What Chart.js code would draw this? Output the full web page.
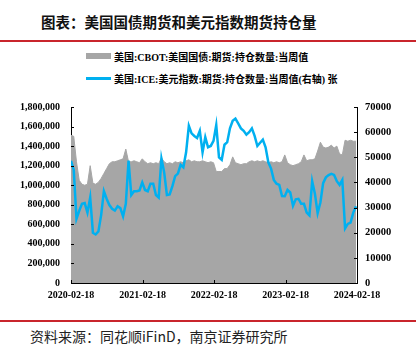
<!DOCTYPE html>
<html>
<head>
<meta charset="utf-8">
<script src="https://cdn.jsdelivr.net/npm/chart.js@4.4.1/dist/chart.umd.min.js"></script>
<style>
  html, body { margin: 0; padding: 0; background: #fff; }
  #page { position: relative; width: 416px; height: 361px; overflow: hidden; background: #fff; }
  .redline { position: absolute; left: 0; width: 416px; height: 2px; background: #c9252c; }
  #title { position: absolute; left: 41px; top: 11px; font: bold 14.5px "Noto Sans CJK SC", sans-serif; color: #111; white-space: nowrap; }
  .leg { position: absolute; left: 86px; height: 14px; display: flex; align-items: center; white-space: nowrap;
         font: bold 10px "Liberation Serif", "Noto Sans CJK SC", serif; color: #000; }
  .leg i { display: inline-block; width: 25px; margin-right: 3px; }
  #source { position: absolute; left: 30px; top: 326px; font: 14px "Noto Sans CJK SC", sans-serif; color: #222; white-space: nowrap; }
  #chart { position: absolute; left: 0; top: 90px; }
</style>
</head>
<body>
<div id="page">
  <div id="title">图表：美国国债期货和美元指数期货持仓量</div>
  <div class="redline" style="top:40px"></div>
  <div class="leg" style="top:49px"><i style="height:6px;background:#a6a6a6"></i>美国:CBOT:美国国债:期货:持仓数量:当周值</div>
  <div class="leg" style="top:71px"><i style="height:3px;background:#00b0f0"></i>美国:ICE:美元指数:期货:持仓数量:当周值(右轴) 张</div>
  <canvas id="chart" width="416" height="220"></canvas>
  <div class="redline" style="top:320px"></div>
  <div id="source">资料来源：同花顺iFinD，南京证券研究所</div>
</div>
<script>
(function () {
    'use strict';

    // one reading every 14 days starting 2020-02-18
    const START = '2020-02-18';
    const STEP_DAYS = 14;
    const tickLabels = ['2020-02-18', '2021-02-18', '2022-02-18', '2023-02-18', '2024-02-18'];

    // CBOT US Treasury futures open interest (left axis)
    const cbotOI = [
        1510000, 1500000, 1240000, 1050000, 1010000, 1000000, 1010000, 1200000, 1020000, 1010000,
        1030000, 1070000, 1120000, 1170000, 1220000, 1240000, 1240000, 1250000, 1260000, 1270000,
        1370000, 1240000, 1240000, 1250000, 1240000, 1230000, 1270000, 1240000, 1220000, 1230000,
        1220000, 1230000, 1220000, 1280000, 1240000, 1220000, 1230000, 1220000, 1240000, 1230000,
        1240000, 1230000, 1250000, 1260000, 1240000, 1250000, 1240000, 1240000, 1250000, 1240000,
        1230000, 1240000, 1230000, 1140000, 1140000, 1140000, 1170000, 1170000, 1210000, 1290000,
        1230000, 1220000, 1210000, 1220000, 1220000, 1240000, 1250000, 1240000, 1250000, 1240000,
        1250000, 1240000, 1230000, 1240000, 1230000, 1240000, 1230000, 1240000, 1310000, 1230000,
        1210000, 1200000, 1210000, 1220000, 1240000, 1310000, 1250000, 1260000, 1260000, 1270000,
        1350000, 1440000, 1390000, 1380000, 1390000, 1410000, 1380000, 1400000, 1320000, 1310000,
        1460000, 1450000, 1460000, 1450000, 1450000
    ];

    // ICE US dollar index futures open interest (right axis)
    const iceDxOI = [
        48600, 45000, 25500, 28700, 31500, 31800, 28000, 34000, 20000, 19300,
        20500, 27000, 36500, 33500, 31000, 29500, 28800, 30500, 29800, 26500,
        31500, 48700, 35000, 36500, 36500, 36800, 40000, 37000, 36500, 39500,
        39500, 35000, 34000, 49500, 44000, 35000, 35200, 38500, 42500, 43500,
        47000, 46000, 52000, 62500, 59500, 58500, 57700, 60500, 52000, 58000,
        54000, 54500, 56500, 62800, 50000, 49000, 55000, 56000, 61500, 64500,
        65400, 63500, 61500, 60500, 59000, 60000, 61500, 58500, 54500, 55800,
        57000, 54000, 48000, 45500, 41000, 39500, 39000, 34600, 34500, 37000,
        36000, 30700, 33300, 33500, 31500, 31500, 28000, 26900, 40500, 35500,
        27800, 32000, 39700, 42000, 42900, 43400, 43000, 40500, 39000, 41000,
        21700, 23500, 24000, 28000, 30500
    ];

    const DAY = 86400000;
    const t0 = Date.parse(START);
    const tickDays = tickLabels.map(d => Math.round((Date.parse(d) - t0) / DAY));
    const toPoints = arr => arr.map((v, i) => ({ x: i * STEP_DAYS, y: v }));

    const tickFont = { family: "'Liberation Serif', 'Times New Roman', serif", size: 10, weight: 'bold' };

    // small inward tick marks like the original
    const innerTicks = {
        id: 'innerTicks',
        afterDraw(chart) {
            const { ctx, chartArea: a, scales } = chart;
            ctx.save();
            ctx.strokeStyle = '#000';
            ctx.lineWidth = 1;
            ctx.beginPath();
            scales.y.ticks.forEach(t => {
                const p = Math.round(scales.y.getPixelForValue(t.value)) + 0.5;
                ctx.moveTo(a.left, p); ctx.lineTo(a.left + 3, p);
            });
            scales.y1.ticks.forEach(t => {
                const p = Math.round(scales.y1.getPixelForValue(t.value)) + 0.5;
                ctx.moveTo(a.right, p); ctx.lineTo(a.right - 3, p);
            });
            scales.x.ticks.forEach(t => {
                const p = Math.round(scales.x.getPixelForValue(t.value)) + 0.5;
                ctx.moveTo(p, a.bottom); ctx.lineTo(p, a.bottom - 3);
            });
            ctx.stroke();
            ctx.restore();
        }
    };

    new Chart(document.getElementById('chart'), {
        type: 'line',
        data: {
            datasets: [{
                label: '美国:ICE:美元指数:期货:持仓数量:当周值(右轴)',
                data: toPoints(iceDxOI),
                yAxisID: 'y1',
                borderColor: '#00b0f0',
                borderWidth: 2.5,
                pointRadius: 0,
                fill: false,
                tension: 0,
                order: 0
            }, {
                label: '美国:CBOT:美国国债:期货:持仓数量:当周值',
                data: toPoints(cbotOI),
                yAxisID: 'y',
                borderColor: '#a6a6a6',
                backgroundColor: '#a6a6a6',
                borderWidth: 1,
                pointRadius: 0,
                fill: 'origin',
                tension: 0,
                order: 1
            }]
        },
        options: {
            responsive: false,
            devicePixelRatio: 1,
            animation: false,
            layout: { padding: { top: 11, left: 0, right: 0, bottom: 0 } },
            plugins: { legend: { display: false }, tooltip: { enabled: false } },
            scales: {
                x: {
                    type: 'linear',
                    min: 0,
                    max: tickDays[tickDays.length - 1],
                    z: 1,
                    grid: { display: false, drawTicks: false },
                    border: { display: true, color: '#000', width: 1 },
                    afterBuildTicks: s => { s.ticks = tickDays.map(v => ({ value: v })); },
                    afterFit: s => { s.height = 27; },
                    ticks: {
                        autoSkip: false, maxRotation: 0, padding: 6,
                        color: '#000', font: tickFont,
                        callback: (v, i) => tickLabels[i]
                    }
                },
                y: {
                    position: 'left',
                    min: 0, max: 1800000,
                    z: 1,
                    grid: { display: false, drawTicks: false },
                    border: { display: true, color: '#000', width: 1 },
                    afterFit: s => { s.width = 71; },
                    ticks: {
                        stepSize: 200000, padding: 11, color: '#000', font: tickFont,
                        callback: v => v.toLocaleString('en-US')
                    }
                },
                y1: {
                    position: 'right',
                    min: 0, max: 70000,
                    z: 1,
                    grid: { display: false, drawTicks: false },
                    border: { display: true, color: '#000', width: 1 },
                    afterFit: s => { s.width = 59; },
                    ticks: {
                        stepSize: 10000, padding: 8, color: '#000',
                        font: { family: tickFont.family, size: 10.5, weight: 'bold' },
                        callback: v => String(v)
                    }
                }
            }
        },
        plugins: [innerTicks]
    });
})();
</script>
</body>
</html>
